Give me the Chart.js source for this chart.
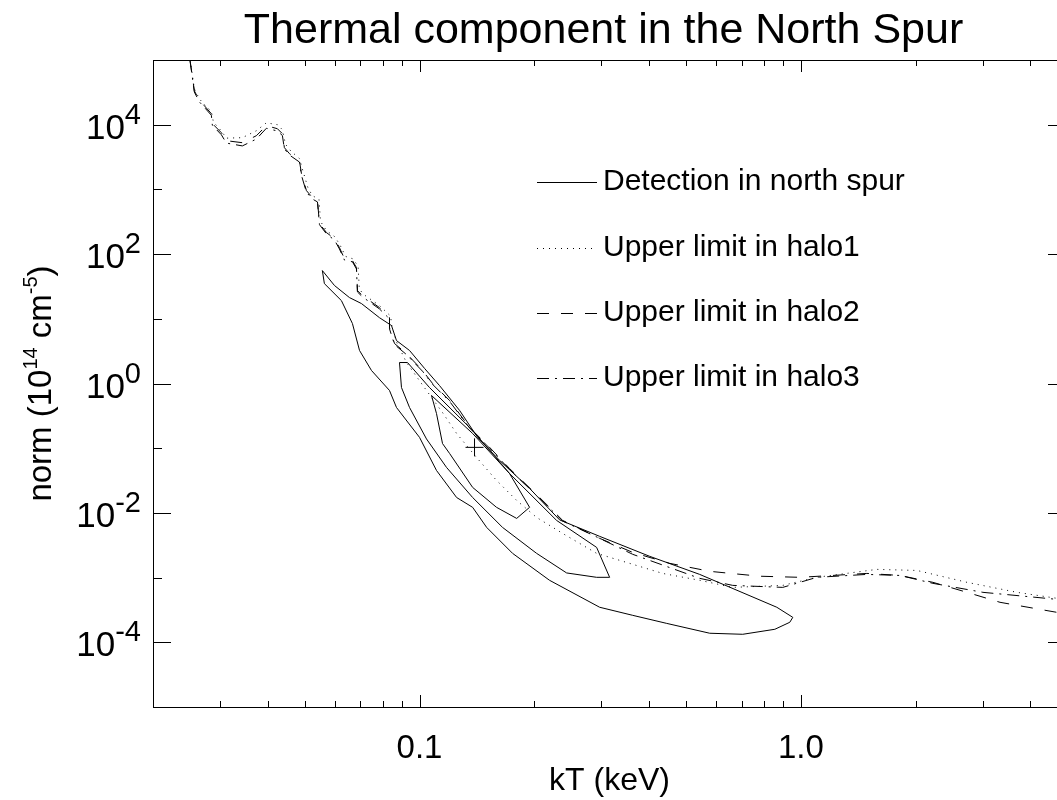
<!DOCTYPE html>
<html>
<head>
<meta charset="utf-8">
<script src="https://cdn.jsdelivr.net/npm/chart.js@4"></script>
<style>
  html, body { margin: 0; padding: 0; background: #fff; overflow: hidden; }
  canvas { display: block; }
</style>
</head>
<body>
<canvas id="spurChart" width="1080" height="800"></canvas>
<script>
// upper limit, halo1 (dotted)
const halo1KT = [0.0250, 0.02535, 0.02567, 0.02647, 0.02728, 0.02845, 0.02880, 0.03022, 0.03115, 0.03431,
  0.03734, 0.03966, 0.04239, 0.04369, 0.04450, 0.04600, 0.04842, 0.04950, 0.05100, 0.05239,
  0.05450, 0.05500, 0.05702, 0.06000, 0.06200, 0.06400, 0.06669, 0.06900, 0.06950, 0.07085,
  0.07852, 0.08400, 0.08450, 0.08700, 0.09244, 0.1043, 0.1149, 0.1251, 0.1411, 0.1592,
  0.1798, 0.2028, 0.2373, 0.2914, 0.3557, 0.4343, 0.5431, 0.6630, 0.8969, 1.102,
  1.583, 2.016, 2.728, 3.690, 4.70, 4.96];
const halo1Norm = [1.0e5, 60000, 36000, 25000, 20500, 16000, 11000, 8000, 6200, 6300,
  8070, 10700, 10000, 8380, 5000, 3900, 3000, 1900, 1050, 800,
  700, 320, 230, 185, 135, 92, 85, 66, 30, 24.5,
  16, 11, 8, 4.4, 2.11, 0.780, 0.356, 0.169, 0.0719, 0.0318,
  0.0156, 0.00851, 0.00482, 0.00237, 0.00166, 0.00116, 0.000908, 0.000706, 0.000758, 0.00101,
  0.00134, 0.00129, 0.000845, 0.000592, 0.000478, 0.000461];

// upper limit, halo2 (dashed)
const halo2KT = [0.0250, 0.02535, 0.02567, 0.02647, 0.02728, 0.02845, 0.02862, 0.03022, 0.03115, 0.03431,
  0.03734, 0.03966, 0.04239, 0.04369, 0.04422, 0.04559, 0.04842, 0.04902, 0.05052, 0.05239,
  0.05400, 0.05466, 0.05702, 0.05984, 0.06166, 0.06355, 0.06669, 0.06833, 0.06874, 0.07085,
  0.07852, 0.08342, 0.08342, 0.08598, 0.09244, 0.1018, 0.1082, 0.1199, 0.1353, 0.1527,
  0.1722, 0.2065, 0.2373, 0.2968, 0.3624, 0.4532, 0.5769, 0.7805, 0.994, 1.213,
  1.490, 1.819, 2.221, 2.728, 3.330, 4.70, 4.96];
const halo2Norm = [1.0e5, 57100, 33500, 23500, 19600, 14800, 10400, 7520, 5660, 5270,
  6760, 9660, 8670, 7260, 4420, 3570, 2780, 1750, 957, 747,
  670, 296, 215, 173, 126, 85.1, 79.4, 61.9, 27.3, 22.8,
  14.9, 10.4, 7.33, 4.15, 2.90, 1.59, 1.00, 0.546, 0.209, 0.103,
  0.0486, 0.0173, 0.00766, 0.00404, 0.00245, 0.00166, 0.00125, 0.00105, 0.00101, 0.00108,
  0.00116, 0.00108, 0.000845, 0.000592, 0.000415, 0.000290, 0.000270];

// upper limit, halo3 (dash-dot)
const halo3KT = [0.0250, 0.02535, 0.02567, 0.02647, 0.02728, 0.02845, 0.02862, 0.03022, 0.03115, 0.03431,
  0.03734, 0.03966, 0.04239, 0.04369, 0.04422, 0.04559, 0.04842, 0.04902, 0.05052, 0.05239,
  0.05400, 0.05466, 0.05702, 0.05984, 0.06166, 0.06355, 0.06669, 0.06833, 0.06874, 0.07085,
  0.07852, 0.08342, 0.08342, 0.08598, 0.09244, 0.1018, 0.1082, 0.1199, 0.1353, 0.1527,
  0.1722, 0.2065, 0.2373, 0.2968, 0.3624, 0.5431, 0.6630, 0.8969, 1.102, 1.490,
  1.819, 2.221, 3.004, 4.70, 4.96];
const halo3Norm = [1.0e5, 55000, 32000, 22500, 18500, 14000, 9800, 7000, 5200, 4700,
  6000, 8800, 8000, 6800, 4200, 3400, 2650, 1650, 900, 710,
  640, 285, 205, 165, 120, 81, 76, 59, 26, 21.8,
  14.2, 10.0, 7.0, 4.0, 2.8, 1.55, 0.97, 0.53, 0.205, 0.100,
  0.0470, 0.0168, 0.00750, 0.00404, 0.00229, 0.000973, 0.000758, 0.000706, 0.00101, 0.00112,
  0.00108, 0.000815, 0.000592, 0.000461, 0.000446];

// detection contours in the north spur (closed loops)
const outerKT = [0.05562, 0.05984, 0.06549, 0.07042, 0.07852, 0.08443, 0.08701, 0.09414, 0.1031, 0.1128,
  0.1274, 0.1420, 0.1622, 0.1944, 0.2330, 0.2968, 0.4016, 0.5431, 0.8650, 0.9528,
  0.9357, 0.8549, 0.7042, 0.5769, 0.4450, 0.3624, 0.2968, 0.2193, 0.1754, 0.1500,
  0.1378, 0.1251, 0.1108, 0.1000, 0.08701, 0.08342, 0.07482, 0.06961, 0.06669, 0.06240,
  0.05630, 0.05562];
const outerNorm = [55.6, 32.7, 21.3, 17.2, 10.4, 7.87, 4.61, 3.24, 1.71, 0.931,
  0.383, 0.147, 0.0647, 0.0239, 0.00780, 0.00434, 0.00213, 0.00112, 0.000348, 0.000243,
  0.000204, 0.000159, 0.000133, 0.000138, 0.000196, 0.000261, 0.000348, 0.000908, 0.00237, 0.00597,
  0.0122, 0.0173, 0.0453, 0.147, 0.426, 0.780, 1.59, 3.24, 8.45, 19.1,
  35.0, 55.6];
const middleKT = [0.08861, 0.09300, 0.1062, 0.1378, 0.1722, 0.2288, 0.2914, 0.3152, 0.2914, 0.2431,
  0.2028, 0.1651, 0.1378, 0.1177, 0.1043, 0.09414, 0.08968, 0.08861];
const middleNorm = [2.11, 2.11, 0.867, 0.188, 0.0407, 0.00766, 0.00293, 0.00101, 0.00101, 0.00118,
  0.00237, 0.00597, 0.0173, 0.0505, 0.139, 0.426, 0.867, 2.11];
const innerKT = [0.1075, 0.1378, 0.1722, 0.1944, 0.1798, 0.1592, 0.1378, 0.1199, 0.1149, 0.1108, 0.1075];
const innerNorm = [0.653, 0.169, 0.0407, 0.0122, 0.00822, 0.0122, 0.0248, 0.0830, 0.118, 0.344, 0.653];
const bestFitKT = [0.1394];
const bestFitNorm = [0.103];

// axes
const xMajorTicks = [0.1, 1.0];
const xMajorLabels = ['0.1', '1.0'];
const xMinorTicks = [0.03, 0.04, 0.05, 0.06, 0.07, 0.08, 0.09, 0.2, 0.3, 0.4, 0.5, 0.6, 0.7, 0.8, 0.9, 2, 3, 4];
const yMajorTicks = [1e-4, 1e-2, 1, 1e2, 1e4];
const yMajorExponents = ['-4', '-2', '0', '2', '4'];
const yMinorTicks = [1e-3, 1e-1, 1e1, 1e3];

const FONT = '"Liberation Sans", Arial, Helvetica, sans-serif';

function toPoints(xs, ys) {
  return xs.map((x, i) => ({ x: x, y: ys[i] }));
}

function lineSet(label, xs, ys, dash, inLegend) {
  return {
    label: label,
    data: toPoints(xs, ys),
    showLine: true,
    borderColor: '#000',
    borderWidth: 1,
    borderDash: dash,
    pointRadius: 0,
    fill: false,
    inLegend: inLegend
  };
}

// text runs, some raised as superscripts
function drawRuns(ctx, runs, x, y) {
  let cx = x;
  runs.forEach(r => {
    ctx.font = r.size + 'px ' + FONT;
    ctx.fillText(r.text, cx, y - (r.rise || 0));
    cx += ctx.measureText(r.text).width;
  });
}
function runsWidth(ctx, runs) {
  return runs.reduce((w, r) => {
    ctx.font = r.size + 'px ' + FONT;
    return w + ctx.measureText(r.text).width;
  }, 0);
}

const idlFrame = {
  id: 'idlFrame',
  afterDraw(chart) {
    const { ctx, chartArea: a, scales: { x, y } } = chart;
    ctx.save();
    ctx.strokeStyle = '#000';
    ctx.fillStyle = '#000';
    ctx.lineWidth = 1;
    ctx.setLineDash([]);
    ctx.strokeRect(a.left + 0.5, a.top + 0.5, a.right - a.left, a.bottom - a.top);

    // ticks point inwards on all four sides
    ctx.beginPath();
    const xTick = (v, len) => {
      const px = Math.round(x.getPixelForValue(v)) + 0.5;
      ctx.moveTo(px, a.bottom); ctx.lineTo(px, a.bottom - len);
      ctx.moveTo(px, a.top); ctx.lineTo(px, a.top + len);
    };
    const yTick = (v, len) => {
      const py = Math.round(y.getPixelForValue(v)) + 0.5;
      ctx.moveTo(a.left, py); ctx.lineTo(a.left + len, py);
      ctx.moveTo(a.right, py); ctx.lineTo(a.right - len, py);
    };
    xMajorTicks.forEach(v => xTick(v, 12));
    xMinorTicks.forEach(v => xTick(v, 6));
    yMajorTicks.forEach(v => yTick(v, 18));
    yMinorTicks.forEach(v => yTick(v, 9));
    ctx.stroke();

    // x tick labels
    ctx.font = '33px ' + FONT;
    ctx.textAlign = 'center';
    ctx.textBaseline = 'alphabetic';
    xMajorTicks.forEach((v, i) => {
      ctx.fillText(xMajorLabels[i], x.getPixelForValue(v), 758);
    });
    ctx.font = '32px ' + FONT;
    ctx.fillText('kT (keV)', (a.left + a.right) / 2, 790);

    // y tick labels: 10 with a raised exponent
    ctx.textAlign = 'left';
    yMajorTicks.forEach((v, i) => {
      const runs = [
        { text: '10', size: 35 },
        { text: yMajorExponents[i], size: 29, rise: 15 }
      ];
      const w = runsWidth(ctx, runs);
      drawRuns(ctx, runs, 141 - w, y.getPixelForValue(v) + 14);
    });

    // y axis title, rotated
    const yRuns = [
      { text: 'norm (10', size: 33 },
      { text: '14', size: 20, rise: 14 },
      { text: ' cm', size: 33 },
      { text: '-5', size: 20, rise: 14 },
      { text: ')', size: 33 }
    ];
    ctx.save();
    ctx.translate(51, (a.top + a.bottom) / 2);
    ctx.rotate(-Math.PI / 2);
    drawRuns(ctx, yRuns, -runsWidth(ctx, yRuns) / 2, 0);
    ctx.restore();

    // title
    ctx.font = '43px ' + FONT;
    ctx.textAlign = 'center';
    ctx.fillText('Thermal component in the North Spur', (a.left + a.right) / 2 - 6, 43);

    // legend
    const rows = [182, 248, 313, 378];
    ctx.font = '30px ' + FONT;
    ctx.textAlign = 'left';
    ctx.textBaseline = 'middle';
    chart.data.datasets.filter(ds => ds.inLegend).forEach((ds, i) => {
      const ry = rows[i] + 0.5;
      ctx.setLineDash(ds.borderDash || []);
      ctx.beginPath();
      ctx.moveTo(537, ry);
      ctx.lineTo(597, ry);
      ctx.stroke();
      ctx.fillText(ds.label, 603, rows[i]);
    });
    ctx.restore();
  }
};

new Chart(document.getElementById('spurChart'), {
  type: 'scatter',
  data: {
    datasets: [
      lineSet('Detection in north spur', outerKT, outerNorm, [], true),
      lineSet('Upper limit in halo1', halo1KT, halo1Norm, [1, 5], true),
      lineSet('Upper limit in halo2', halo2KT, halo2Norm, [12, 12], true),
      lineSet('Upper limit in halo3', halo3KT, halo3Norm, [12, 6, 2, 6], true),
      lineSet('', middleKT, middleNorm, [], false),
      lineSet('', innerKT, innerNorm, [], false),
      {
        label: '',
        data: toPoints(bestFitKT, bestFitNorm),
        pointStyle: 'cross',
        pointRadius: 9,
        borderColor: '#000',
        borderWidth: 1,
        showLine: false,
        inLegend: false
      }
    ]
  },
  options: {
    responsive: false,
    animation: false,
    layout: { padding: { left: 153, right: 14, top: 60, bottom: 93 } },
    scales: {
      x: { type: 'logarithmic', display: false, min: 0.02, max: 4.96 },
      y: { type: 'logarithmic', display: false, min: 1e-5, max: 1e5 }
    },
    plugins: {
      legend: { display: false },
      tooltip: { enabled: false }
    }
  },
  plugins: [idlFrame]
});
</script>
</body>
</html>
